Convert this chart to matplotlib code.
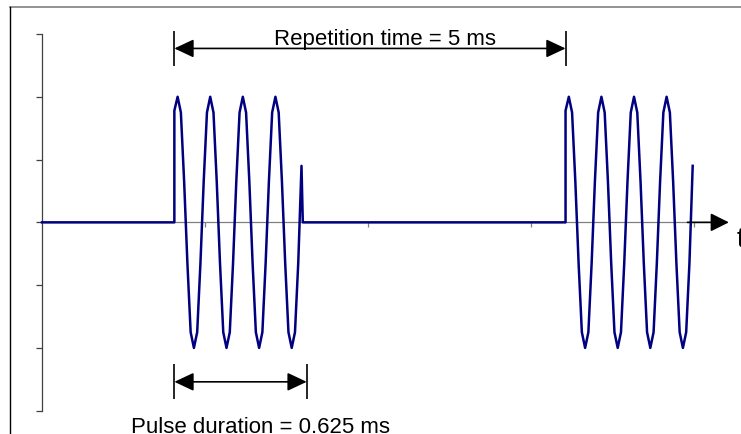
import numpy as np
import matplotlib
matplotlib.use("Agg")
import matplotlib.pyplot as plt
from matplotlib.lines import Line2D

plt.rcParams['font.family'] = ['Liberation Sans', 'DejaVu Sans']

# time axis in samples, signal amplitude in axis units
pulse_starts = [40.6, 160.6]
pulse_values = [1.78, 2.0, 1.75, 0.65, -0.65, -1.75, -2.0, -1.75, -0.65, 0.65,
                1.75, 2.0, 1.75, 0.65, -0.65, -1.75, -2.0, -1.75, -0.65, 0.65,
                1.75, 2.0, 1.75, 0.65, -0.65, -1.75, -2.0, -1.75, -0.65, 0.65,
                1.75, 2.0, 1.75, 0.65, -0.65, -1.75, -2.0, -1.75, -0.65, 0.9]
drop_offset = 0.4
pulse_len = 40.6

x_ticks = [50, 100, 150, 200]
y_ticks = [-3, -2, -1, 0, 1, 2, 3]

rep_label = "Repetition time = 5 ms"
pulse_label = "Pulse duration = 0.625 ms"

# build the trace
t_parts, y_parts = [[0.0]], [[0.0]]
for n, t0 in enumerate(pulse_starts):
    t_parts.append([t0]); y_parts.append([0.0])
    t_parts.append(t0 + np.arange(len(pulse_values))); y_parts.append(pulse_values)
    if n < len(pulse_starts) - 1:
        t_parts.append([t0 + len(pulse_values) - 1 + drop_offset]); y_parts.append([0.0])
t = np.concatenate(t_parts)
y = np.concatenate(y_parts)

fig = plt.figure(figsize=(7.41, 4.34), dpi=100)
ax = fig.add_axes([42/741, 1 - 410.7/434, 668.3/741, 376.7/434])
ax.set_xlim(0, 205)
ax.set_ylim(-3, 3)

ax.plot(t, y, color="#000080", lw=1.8, clip_on=False, zorder=3)

for s in ["top", "right"]:
    ax.spines[s].set_visible(False)
ax.spines["left"].set_color("#404040")
ax.spines["left"].set_linewidth(0.9)
ax.spines["bottom"].set_position(("data", 0))
ax.spines["bottom"].set_color("#808080")
ax.spines["bottom"].set_linewidth(0.9)
ax.set_xticks(x_ticks)
ax.set_yticks(y_ticks)
ax.set_xticklabels([])
ax.set_yticklabels([])
ax.tick_params(axis="y", direction="out", length=4.5, width=0.9, color="#404040")
ax.tick_params(axis="x", direction="out", length=3.5, width=0.9, color="#808080")

# time axis arrow
ax.annotate("", xy=(210.7, 0), xytext=(198, 0),
            arrowprops=dict(arrowstyle="-|>,head_length=0.8,head_width=0.4",
                            mutation_scale=14, color="black", lw=1.2,
                            shrinkA=0, shrinkB=0), annotation_clip=False)
ax.text(213.2, -0.39, "t", fontsize=20, ha="left", va="baseline")

# repetition time dimension
arrow_style = dict(arrowstyle="<|-|>,head_length=0.85,head_width=0.4",
                   mutation_scale=14, color="black", lw=1.2, shrinkA=0, shrinkB=0)
rep_y = 2.77
ax.annotate("", xy=(pulse_starts[1], rep_y), xytext=(pulse_starts[0], rep_y),
            arrowprops=arrow_style, annotation_clip=False)
ax.vlines([pulse_starts[0], pulse_starts[1]], rep_y - 0.28, rep_y + 0.28,
          color="black", lw=1.2, clip_on=False)
ax.text(105.2, 2.83, rep_label, fontsize=16, ha="center", va="baseline")

# pulse duration dimension
pd_y = -2.54
ax.annotate("", xy=(pulse_starts[0] + pulse_len, pd_y), xytext=(pulse_starts[0], pd_y),
            arrowprops=arrow_style, annotation_clip=False)
ax.vlines([pulse_starts[0], pulse_starts[0] + pulse_len], pd_y - 0.28, pd_y + 0.28,
          color="black", lw=1.2, clip_on=False)
ax.text(67.0, -3.35, pulse_label, fontsize=16, ha="center", va="baseline")

# outer frame
fig.add_artist(Line2D([10/741, 1.0], [1 - 7/434, 1 - 7/434], color="#808080", lw=1.2,
                      transform=fig.transFigure))
fig.add_artist(Line2D([10/741, 10/741], [0.0, 1 - 7/434], color="black", lw=1.0,
                      transform=fig.transFigure))

fig.savefig("out.png", dpi=100)
